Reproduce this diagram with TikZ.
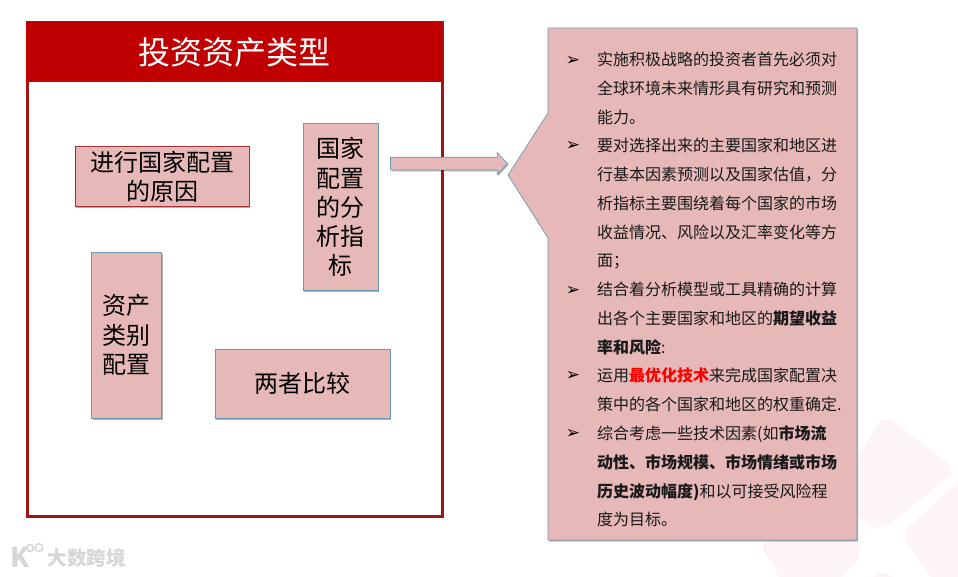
\documentclass[tikz,border=0pt]{standalone}
\usepackage{fontspec}
\usetikzlibrary{shapes.arrows,shadows}
\setmainfont{Noto Sans CJK SC}
\newfontfamily\symfont{DejaVu Sans}
\definecolor{boxfill}{HTML}{E6B8B7}
\definecolor{boxline}{HTML}{6A9AB8}
\definecolor{darkred}{HTML}{C00000}
\definecolor{frameline}{HTML}{A41414}
\definecolor{wm}{HTML}{FDF4F5}
\definecolor{logogray}{HTML}{D6D6D6}
\tikzset{
  softshadow/.style={drop shadow={shadow xshift=1pt,shadow yshift=-1.5pt,opacity=.3,fill=black}},
  pinkbox/.style={draw=boxline,line width=.7pt,fill=boxfill,softshadow,align=center,inner sep=0pt,text=black,font=\fontsize{24}{29.2}\selectfont},
  para/.style={anchor=north west,align=left,inner sep=0pt,text=black!90,font=\fontsize{16}{28.8}\selectfont},
  bulletmark/.style={anchor=center,inner sep=0pt,text=black,font=\symfont\fontsize{17}{17}\selectfont},
  wmshape/.style={fill=wm,rounded corners=12pt},
}
\begin{document}
\begin{tikzpicture}[x=1pt,y=-1pt]
\useasboundingbox (0,0) rectangle (958,576);
% watermark in the lower right corner
\begin{scope}
\clip (0,0) rectangle (958,576);
\fill[wmshape] (883,414) -- (957,470) -- (880,532) -- (835,500) -- cycle;
\fill[wmshape] (962,478) -- (900,535) -- (945,595) -- (975,595) -- cycle;
\fill[wmshape] (758,541) -- (860,541) -- (862,555) -- (825,595) -- (790,595) -- cycle;
\fill[wmshape] (883,568) -- (905,590) -- (860,590) -- cycle;
\end{scope}
% logo mark in the lower left corner
\node[inner sep=0pt,text=logogray,font=\bfseries\fontsize{27}{27}\selectfont] (logok) at (20,557) {K};
\draw[logogray,line width=1.5pt] (30,548) circle (3.4);
\draw[logogray,line width=1.5pt] (39,547.5) circle (3.8);
\node[inner sep=0pt,text=logogray,font=\bfseries\fontsize{19.5}{19.5}\selectfont] (logotext) at (86.5,558) {大数跨境};
% frame with title
\node[draw=frameline,line width=3pt,minimum width=415pt,minimum height=494pt,inner sep=0pt] (frame) at (234.5,269) {};
\node[fill=darkred,minimum width=416pt,minimum height=60pt,inner sep=0pt,text=white,font=\fontsize{32}{32}\selectfont] (title) at (234,52) {投资资产类型};
% inner boxes
\node[pinkbox,draw=red!55!black!80,minimum width=174pt,minimum height=60pt] (reason) at (162,176.5) {进行国家配置\\的原因};
\node[pinkbox,minimum width=75pt,minimum height=167pt] (index) at (340.5,207) {国家\\配置\\的分\\析指\\标};
\node[pinkbox,minimum width=70pt,minimum height=166pt] (asset) at (126.5,335) {资产\\类别\\配置};
\node[pinkbox,minimum width=175pt,minimum height=69pt] (both) at (302.5,383.5) {两者比较};
% callout
\draw[boxline,line width=.7pt,fill=boxfill,softshadow] (548,28) -- (857,28) -- (857,540) -- (548,540) -- (548,238) -- (508,175) -- (548,113) -- cycle;
\coordinate (calloutTip) at (508,175);
% block arrow
\node[single arrow,draw=boxline,line width=.7pt,fill=boxfill,softshadow,minimum width=21pt,minimum height=117pt,single arrow head extend=4.5pt,single arrow tip angle=93,inner xsep=0pt,inner ysep=6pt] (bigarrow) at (446,163.5) {};
% callout texts
\node[bulletmark] (b1) at (573,60.5) {➢};
\node[para] (p1) at (597,52) {实施积极战略的投资者首先必须对\\全球环境未来情形具有研究和预测\\能力。};
\node[bulletmark] (b2) at (573,146) {➢};
\node[para] (p2) at (597,138) {要对选择出来的主要国家和地区进\\行基本因素预测以及国家估值，分\\析指标主要围绕着每个国家的市场\\收益情况、风险以及汇率变化等方\\面；};
\node[bulletmark] (b3) at (573,290.5) {➢};
\node[para] (p3) at (597,282) {结合着分析模型或工具精确的计算\\出各个主要国家和地区的\textbf{期望收益}\\\textbf{率和风险}:};
\node[bulletmark] (b4) at (573,376) {➢};
\node[para] (p4) at (597,368) {运用\textcolor{red}{\textbf{最优化技术}}来完成国家配置决\\策中的各个国家和地区的权重确定.};
\node[bulletmark] (b5) at (573,434) {➢};
\node[para] (p5) at (597,425.5) {综合考虑一些技术因素(如\textbf{市场流}\\\textbf{动性、市场规模、市场情绪或市场}\\\textbf{历史波动幅度)}和以可接受风险程\\度为目标。};
\end{tikzpicture}
\end{document}
